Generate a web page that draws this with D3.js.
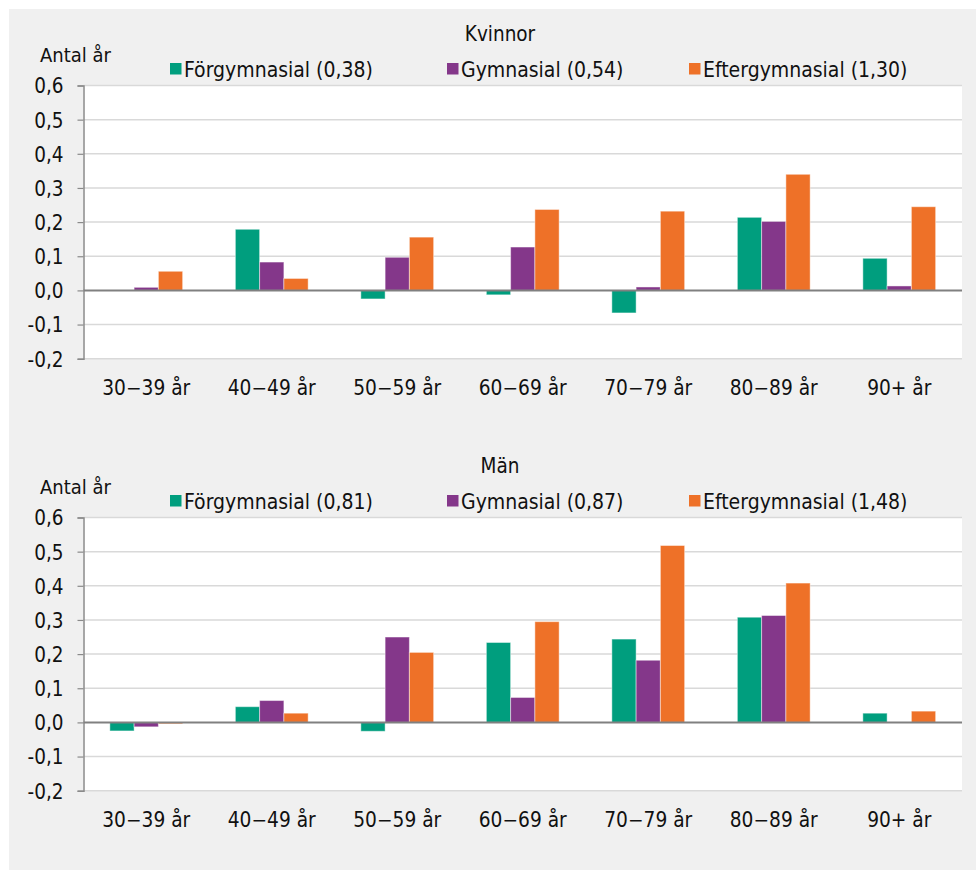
<!DOCTYPE html>
<html><head><meta charset="utf-8">
<script src="https://cdn.jsdelivr.net/npm/d3@7"></script>
<style>
html,body{margin:0;padding:0;background:#fff;}
text{font-family:"DejaVu Sans Condensed","DejaVu Sans",sans-serif;fill:#111;}
</style></head>
<body>
<svg id="chart" width="976" height="871"></svg>
<script>
const categories = ["30\u221239 år","40\u221249 år","50\u221259 år","60\u221269 år","70\u221279 år","80\u221289 år","90+ år"];
const yTicks = [-0.2,-0.1,0,0.1,0.2,0.3,0.4,0.5,0.6];
const seriesColors = ["#009E7E","#84378A","#EE7128"];

const kvinnorLegend = ["Förgymnasial (0,38)","Gymnasial (0,54)","Eftergymnasial (1,30)"];
const kvinnorForgymnasial = [0, 0.179, -0.025, -0.013, -0.066, 0.214, 0.094];
const kvinnorGymnasial    = [0.009, 0.083, 0.097, 0.127, 0.010, 0.202, 0.013];
const kvinnorEftergymn    = [0.056, 0.035, 0.156, 0.237, 0.232, 0.340, 0.245];

const manLegend = ["Förgymnasial (0,81)","Gymnasial (0,87)","Eftergymnasial (1,48)"];
const manForgymnasial = [-0.025, 0.046, -0.026, 0.234, 0.244, 0.308, 0.027];
const manGymnasial    = [-0.013, 0.064, 0.250, 0.073, 0.182, 0.313, 0];
const manEftergymn    = [-0.004, 0.027, 0.205, 0.295, 0.518, 0.408, 0.033];

const svg = d3.select("#chart");
svg.append("rect").attr("x",9).attr("y",9).attr("width",967).attr("height",861).attr("fill","#f0f0f0");

const fmt = v => d3.format(".1f")(v).replace(".", ",").replace("\u2212", "-");

function panel(oy, title, legend, series){
  const g = svg.append("g").attr("transform",`translate(0,${oy})`);
  const left = 83.5, right = 962, top = 85.5, bottom = 358.7;
  const y = d3.scaleLinear().domain([-0.2,0.6]).range([bottom, top]);
  const x0 = d3.scaleBand().domain(categories).range([left,right]).paddingInner(0.42).paddingOuter(0.21);
  const x1 = d3.scaleBand().domain([0,1,2]).range([0,x0.bandwidth()]);

  g.append("rect").attr("x",left).attr("y",top).attr("width",right-left).attr("height",bottom-top).attr("fill","#fff");

  // gridlines
  g.append("g").selectAll("line").data(yTicks.filter(t=>t!==0)).join("line")
    .attr("x1",left).attr("x2",right).attr("y1",d=>y(d)).attr("y2",d=>y(d))
    .attr("stroke","#d9d9d9").attr("stroke-width",1.5);

  // y axis
  const ax = g.append("g").attr("transform",`translate(${left},0)`)
    .call(d3.axisLeft(y).tickValues(yTicks).tickSize(6).tickPadding(14).tickFormat(fmt));
  ax.select(".domain").attr("stroke","#8a8a8a").attr("stroke-width",1.5);
  ax.selectAll(".tick line").attr("stroke","#8a8a8a").attr("stroke-width",1.2);
  ax.selectAll(".tick text").attr("font-size",20.5).attr("font-family","DejaVu Sans Condensed, DejaVu Sans, sans-serif").attr("fill","#111").attr("dy","0.36em");

  // bars
  const data = categories.map((c,i)=>({c, vals: series.map(s=>s[i])}));
  const grp = g.append("g").selectAll("g").data(data).join("g").attr("transform",d=>`translate(${x0(d.c)},0)`);
  grp.selectAll("rect").data(d=>d.vals.map((v,k)=>({v,k}))).join("rect")
    .attr("x",d=>x1(d.k)).attr("width",x1.bandwidth())
    .attr("y",d=>y(Math.max(0,d.v))).attr("height",d=>Math.abs(y(d.v)-y(0)))
    .attr("fill",d=>seriesColors[d.k])
    .attr("stroke","#ffffff").attr("stroke-opacity",0.45).attr("stroke-width",1);

  // zero line
  g.append("line").attr("x1",left).attr("x2",right).attr("y1",y(0)).attr("y2",y(0))
    .attr("stroke","#808080").attr("stroke-width",2);

  // x labels
  g.append("g").selectAll("text").data(categories).join("text")
    .attr("x",d=>x0(d)+x0.bandwidth()/2).attr("y",394.5).attr("text-anchor","middle")
    .attr("font-size",20.7).text(d=>d);

  // title
  g.append("text").attr("x",500).attr("y",40.5).attr("text-anchor","middle").attr("font-size",20.5).text(title);
  g.append("text").attr("x",40).attr("y",61.7).attr("font-size",20).text("Antal år");

  // legend
  const lx = [170, 447, 689];
  legend.forEach((t,k)=>{
    g.append("rect").attr("x",lx[k]).attr("y",63).attr("width",11.5).attr("height",11.5).attr("fill",seriesColors[k]);
    g.append("text").attr("x",lx[k]+14).attr("y",77).attr("font-size",21).text(t);
  });
}

panel(0, "Kvinnor", kvinnorLegend, [kvinnorForgymnasial, kvinnorGymnasial, kvinnorEftergymn]);
panel(432, "Män", manLegend, [manForgymnasial, manGymnasial, manEftergymn]);
</script>
</body></html>
